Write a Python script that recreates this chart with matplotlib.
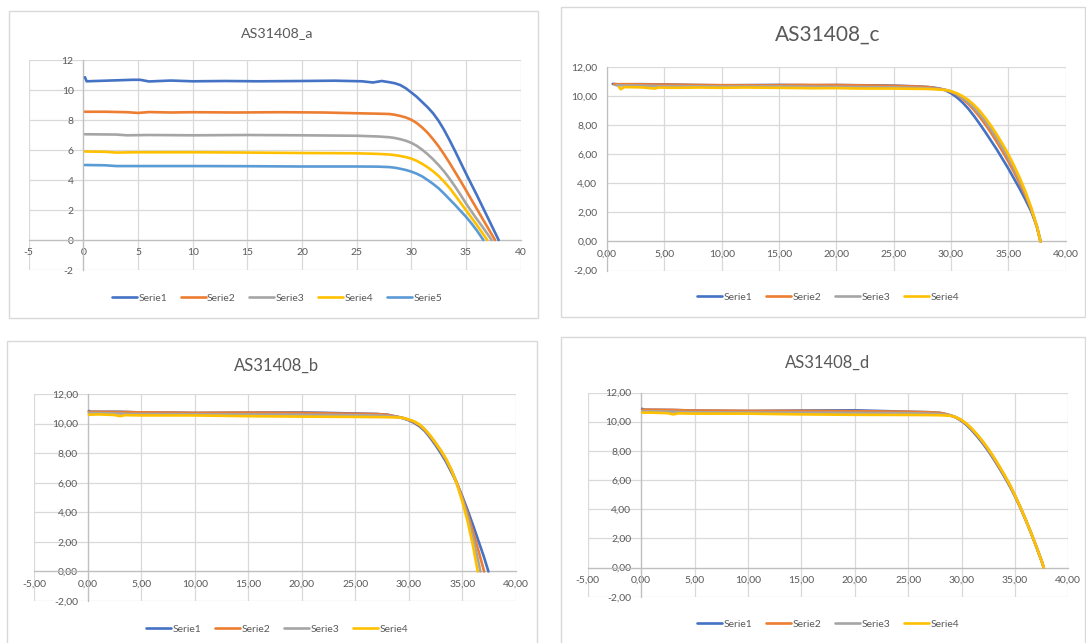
import matplotlib
matplotlib.use("Agg")
import matplotlib.pyplot as plt
from matplotlib.ticker import FuncFormatter, MultipleLocator
from matplotlib.patches import Rectangle

plt.rcParams['font.family'] = ['Lato', 'DejaVu Sans']

W, H = 1086, 643
COLORS = ['#4472C4', '#ED7D31', '#A5A5A5', '#FFC000', '#5B9BD5']
SERIES = ['Serie1', 'Serie2', 'Serie3', 'Serie4', 'Serie5']

KNEE_V = [28, 28.5, 29, 29.5, 30, 30.5, 31, 31.5, 32, 32.5, 33, 33.5, 34, 34.5, 35, 35.5, 36, 36.5, 37, 37.5]

# ---------------- Panel a ----------------
a_v1 = [0.15, 0.3, 2, 4.5, 5.2, 6, 8, 10, 13, 16, 20, 23, 25.5, 26.5, 27.3] + KNEE_V + [38]
a_i1 = [10.85, 10.58, 10.62, 10.68, 10.68, 10.57, 10.63, 10.58, 10.6, 10.58, 10.6, 10.62, 10.58, 10.5, 10.6,
        10.52, 10.45, 10.33, 10.12, 9.84, 9.55, 9.2, 8.85, 8.45, 7.95, 7.35, 6.67, 5.95, 5.2, 4.45, 3.72, 3.0,
        2.25, 1.5, 0.75, 0.0]
a_v2 = [0.15, 2, 4, 5, 6, 8, 10, 14, 18, 22, 25, 27] + KNEE_V[:19] + [37.67]
a_i2 = [8.55, 8.55, 8.52, 8.47, 8.53, 8.5, 8.52, 8.5, 8.52, 8.5, 8.45, 8.42,
        8.4, 8.35, 8.27, 8.17, 8.02, 7.8, 7.5, 7.15, 6.72, 6.25, 5.72, 5.15, 4.55, 3.95, 3.33, 2.7, 2.08,
        1.45, 0.83, 0.0]
a_v3 = [0.15, 3, 4, 6, 10, 15, 20, 25, 27] + KNEE_V[:19] + [37.36]
a_i3 = [7.05, 7.03, 6.98, 7.0, 6.98, 7.0, 6.98, 6.95, 6.9,
        6.85, 6.8, 6.72, 6.62, 6.48, 6.28, 6.02, 5.72, 5.38, 5.0, 4.58, 4.1, 3.58, 3.03, 2.45, 1.92, 1.4,
        0.9, 0.38, 0.0]
a_v4 = [0.15, 2, 3, 5, 10, 15, 20, 25, 27] + KNEE_V[:18] + [36.96]
a_i4 = [5.9, 5.88, 5.83, 5.85, 5.85, 5.83, 5.8, 5.78, 5.74,
        5.7, 5.66, 5.6, 5.53, 5.43, 5.28, 5.08, 4.85, 4.58, 4.27, 3.9, 3.48, 3.0, 2.5, 2.0, 1.5, 1.0, 0.48, 0.0]
a_v5 = [0.15, 2, 3, 5, 10, 15, 20, 25, 27] + KNEE_V[:17] + [36.6]
a_i5 = [5.0, 4.98, 4.93, 4.93, 4.93, 4.92, 4.9, 4.9, 4.89,
        4.86, 4.82, 4.75, 4.67, 4.56, 4.42, 4.24, 4.0, 3.74, 3.45, 3.1, 2.72, 2.35, 1.95, 1.56, 1.12, 0.64, 0.0]

# ---------------- Panel b ----------------
b_v1 = [0.1, 0.3, 3, 5, 8, 10, 15, 20, 22, 25, 27] + KNEE_V[:19] + [37.45]
b_i1 = [10.85, 10.8, 10.8, 10.75, 10.74, 10.72, 10.74, 10.75, 10.73, 10.68, 10.65,
        10.6, 10.52, 10.45, 10.36, 10.22, 10.05, 9.82, 9.5, 9.05, 8.55, 8.0, 7.4, 6.7, 5.95, 5.1, 4.15, 3.15,
        2.1, 1.05, 0.0]
b_v2 = [0.1, 3, 5, 8, 10, 15, 20, 25, 27] + KNEE_V[:18] + [37.05]
b_i2 = [10.8, 10.78, 10.76, 10.74, 10.72, 10.74, 10.72, 10.66, 10.64,
        10.6, 10.52, 10.45, 10.37, 10.25, 10.1, 9.88, 9.57, 9.14, 8.66, 8.12, 7.52, 6.82, 6.0, 5.0, 3.9, 2.7,
        1.45, 0.0]
b_v3 = [0.1, 2, 4, 6, 10, 15, 20, 25, 27] + KNEE_V[:18] + [36.7]
b_i3 = [10.72, 10.7, 10.65, 10.65, 10.63, 10.62, 10.6, 10.57, 10.55,
        10.52, 10.47, 10.43, 10.37, 10.27, 10.13, 9.92, 9.6, 9.18, 8.7, 8.17, 7.57, 6.85, 5.95, 4.9, 3.7, 2.3,
        0.7, 0.0]
b_v4 = [0.1, 1, 2.5, 3, 3.5, 5, 10, 15, 20, 25, 27] + KNEE_V[:17] + [36.45]
b_i4 = [10.6, 10.62, 10.58, 10.5, 10.57, 10.55, 10.55, 10.5, 10.47, 10.45, 10.44,
        10.43, 10.42, 10.41, 10.38, 10.28, 10.15, 9.95, 9.62, 9.2, 8.7, 8.2, 7.6, 6.85, 5.9, 4.75, 3.4, 1.75, 0.0]

# ---------------- Panel c ----------------
c_v1 = [0.5, 1, 3, 5, 7, 10, 13, 15, 18, 20, 23, 25, 27] + KNEE_V + [37.8]
c_i1 = [10.82, 10.78, 10.8, 10.78, 10.75, 10.72, 10.74, 10.75, 10.72, 10.74, 10.72, 10.7, 10.65,
        10.6, 10.56, 10.5, 10.38, 10.18, 9.9, 9.55, 9.12, 8.62, 8.07, 7.5, 6.9, 6.3, 5.65, 5.0, 4.3, 3.6, 2.85,
        2.05, 1.0, 0.0]
c_v2 = [0.6, 2, 4, 6, 8, 10, 14, 17, 20, 22, 25, 27] + KNEE_V + [37.8]
c_i2 = [10.8, 10.8, 10.78, 10.76, 10.74, 10.73, 10.72, 10.75, 10.74, 10.72, 10.68, 10.64,
        10.6, 10.54, 10.48, 10.41, 10.28, 10.08, 9.8, 9.45, 9.03, 8.55, 8.02, 7.45, 6.82, 6.17, 5.48, 4.75, 3.97,
        3.12, 2.18, 0.95, 0.0]
c_v3 = [0.8, 3, 5, 8, 10, 15, 20, 25, 27] + KNEE_V + [37.8]
c_i3 = [10.72, 10.7, 10.66, 10.65, 10.64, 10.65, 10.62, 10.58, 10.55,
        10.52, 10.49, 10.46, 10.41, 10.3, 10.12, 9.88, 9.56, 9.18, 8.74, 8.24, 7.68, 7.07, 6.42, 5.73, 4.98, 4.17,
        3.28, 2.25, 0.98, 0.0]
c_v4 = [1.05, 1.2, 1.5, 3, 4.2, 4.5, 6, 8, 10, 12, 15, 18, 20, 22, 25, 27] + KNEE_V + [37.8]
c_i4 = [10.6, 10.45, 10.6, 10.58, 10.5, 10.57, 10.55, 10.57, 10.55, 10.57, 10.55, 10.52, 10.53, 10.5, 10.5, 10.48,
        10.47, 10.45, 10.43, 10.4, 10.32, 10.18, 9.98, 9.72, 9.38, 8.97, 8.48, 7.93, 7.33, 6.68, 5.98, 5.2, 4.35,
        3.4, 2.3, 1.0, 0.0]

# ---------------- Panel d ----------------
d_v1 = [0.1, 0.3, 3, 5, 8, 10, 15, 20, 22, 25, 27] + KNEE_V + [37.7]
d_i1 = [10.88, 10.82, 10.8, 10.76, 10.74, 10.73, 10.76, 10.78, 10.74, 10.68, 10.65,
        10.6, 10.52, 10.42, 10.28, 10.05, 9.75, 9.38, 8.96, 8.5, 8.0, 7.45, 6.86, 6.25, 5.6, 4.9, 4.12, 3.28,
        2.38, 1.44, 0.45, 0.0]
d_v2 = [0.1, 3, 5, 8, 10, 15, 20, 25, 27] + KNEE_V + [37.7]
d_i2 = [10.82, 10.8, 10.76, 10.75, 10.74, 10.74, 10.72, 10.68, 10.64,
        10.6, 10.53, 10.43, 10.29, 10.08, 9.8, 9.44, 9.03, 8.57, 8.07, 7.52, 6.93, 6.31, 5.66, 4.93, 4.14, 3.29,
        2.39, 1.44, 0.45, 0.0]
d_v3 = [0.1, 2, 4, 6, 10, 15, 20, 25, 27] + KNEE_V + [37.7]
d_i3 = [10.72, 10.7, 10.66, 10.64, 10.63, 10.62, 10.6, 10.58, 10.55,
        10.52, 10.48, 10.41, 10.3, 10.1, 9.82, 9.47, 9.07, 8.61, 8.11, 7.56, 6.97, 6.35, 5.69, 4.95, 4.15, 3.3,
        2.4, 1.45, 0.45, 0.0]
d_v4 = [0.1, 1, 2.5, 3, 3.5, 5, 10, 15, 20, 25, 27] + KNEE_V + [37.7]
d_i4 = [10.62, 10.62, 10.58, 10.5, 10.57, 10.55, 10.55, 10.5, 10.47, 10.46, 10.45,
        10.44, 10.42, 10.4, 10.3, 10.12, 9.85, 9.5, 9.1, 8.65, 8.15, 7.6, 7.0, 6.38, 5.72, 4.97, 4.16, 3.3, 2.4,
        1.45, 0.45, 0.0]

PANELS = [
    dict(title='AS31408_a', tsize=10.3, xmin=-5, dec=0,
         series=[(a_v1, a_i1), (a_v2, a_i2), (a_v3, a_i3), (a_v4, a_i4), (a_v5, a_i5)],
         plot=(28.7, 60, 520.5, 270), box=(9, 11, 538, 318), title_y=33, leg=(277, 298)),
    dict(title='AS31408_c', tsize=15, xmin=0, dec=2,
         series=[(c_v1, c_i1), (c_v2, c_i2), (c_v3, c_i3), (c_v4, c_i4)],
         plot=(607, 66.7, 1065.7, 270.5), box=(561, 7, 1085, 317), title_y=35, leg=(828, 297)),
    dict(title='AS31408_b', tsize=12, xmin=-5, dec=2,
         series=[(b_v1, b_i1), (b_v2, b_i2), (b_v3, b_i3), (b_v4, b_i4)],
         plot=(34.3, 394, 515.7, 601), box=(7, 341, 537, 660), title_y=366, leg=(277, 629)),
    dict(title='AS31408_d', tsize=12, xmin=-5, dec=2,
         series=[(d_v1, d_i1), (d_v2, d_i2), (d_v3, d_i3), (d_v4, d_i4)],
         plot=(587.7, 392.5, 1068.3, 596.7), box=(561, 337, 1085, 660), title_y=363, leg=(828, 624)),
]

TXT = '#595959'
GRID = '#d9d9d9'
AXC = '#bfbfbf'

fig = plt.figure(figsize=(W / 100, H / 100), dpi=100)
fig.patch.set_facecolor('white')

for p in PANELS:
    bx0, by0, bx1, by1 = p['box']
    fig.patches.append(Rectangle((bx0 / W, 1 - by1 / H), (bx1 - bx0) / W, (by1 - by0) / H,
                                 transform=fig.transFigure, fill=False, edgecolor='#d9d9d9', lw=1.0))
    x0, y0, x1, y1 = p['plot']
    ax = fig.add_axes([x0 / W, 1 - y1 / H, (x1 - x0) / W, (y1 - y0) / H])
    ax.set_facecolor('none')
    handles = []
    for k, (v, i) in enumerate(p['series']):
        h, = ax.plot(v, i, color=COLORS[k], lw=1.9, solid_capstyle='round', solid_joinstyle='round', zorder=3)
        handles.append(h)
    ax.set_xlim(p['xmin'], 40)
    ax.set_ylim(-2, 12)
    ax.xaxis.set_major_locator(MultipleLocator(5))
    ax.yaxis.set_major_locator(MultipleLocator(2))
    dec = p['dec']
    fmt = FuncFormatter(lambda val, pos, d=dec: (f"{val:.{d}f}").replace('.', ','))
    ax.xaxis.set_major_formatter(fmt)
    ax.yaxis.set_major_formatter(fmt)
    ax.grid(True, color=GRID, lw=0.9, zorder=0)
    ax.set_axisbelow(True)
    for s in ['top', 'right']:
        ax.spines[s].set_visible(False)
    ax.spines['left'].set_position(('data', 0))
    ax.spines['bottom'].set_position(('data', 0))
    ax.spines['left'].set_color(AXC)
    ax.spines['bottom'].set_color(AXC)
    ax.spines['left'].set_linewidth(0.9)
    ax.spines['bottom'].set_linewidth(0.9)
    ax.tick_params(axis='both', length=0, labelsize=7.5, labelcolor=TXT)
    ax.tick_params(axis='y', pad=7)
    ax.tick_params(axis='x', pad=6)
    fig.text(p['leg'][0] / W, 1 - p['title_y'] / H, p['title'],
             ha='center', va='center', fontsize=p['tsize'], color=TXT)
    fig.legend(handles, SERIES[:len(handles)], loc='center',
               bbox_to_anchor=(p['leg'][0] / W, 1 - p['leg'][1] / H), bbox_transform=fig.transFigure,
               ncol=len(handles), frameon=False, fontsize=7.5, labelcolor=TXT,
               handlelength=2.4, handletextpad=0.15, columnspacing=1.3)

fig.savefig('out.png', dpi=100, facecolor='white')
